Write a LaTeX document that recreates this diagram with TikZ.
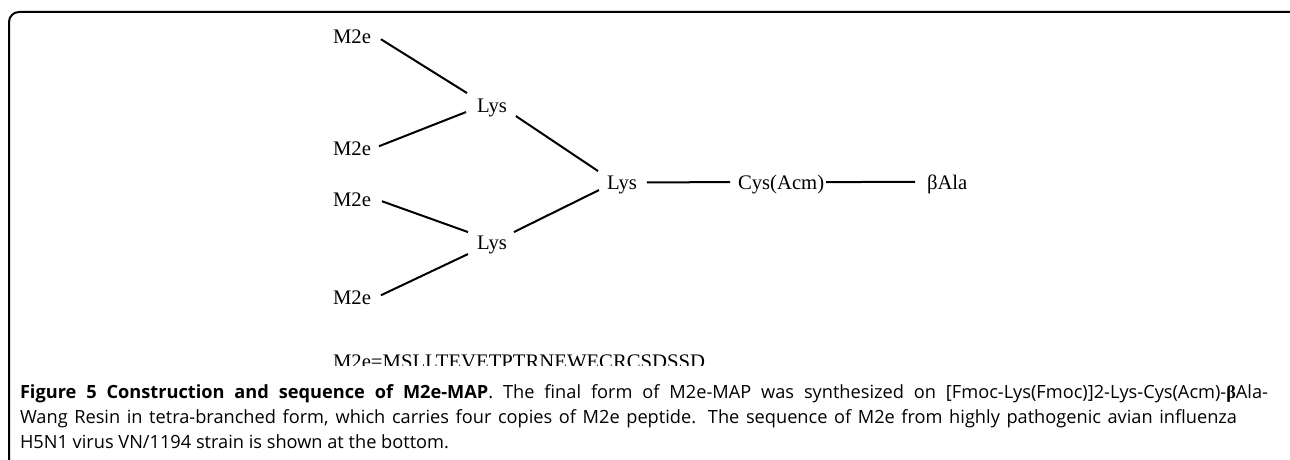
\documentclass[tikz,border=0pt]{standalone}
\usepackage{fontspec}
\setmainfont{Liberation Serif}
\newfontfamily\capfont{Open Sans}
\newfontfamily\grk{Liberation Serif}
\usetikzlibrary{calc}
\begin{document}
\begin{tikzpicture}[x=1pt,y=-1pt,
  lbl/.style={inner sep=0pt, outer sep=0pt, anchor=base west, font=\fontsize{20.7pt}{24pt}\selectfont},
  captext/.style={inner sep=0pt, outer sep=0pt, anchor=base west, font=\capfont\fontsize{18.2pt}{24pt}\selectfont},
  link/.style={line width=2pt},
  frameline/.style={line width=2pt, rounded corners=10pt}]
\useasboundingbox (0,0) rectangle (1290,460);
\begin{scope}
\clip (0,0) rectangle (1290,460);
\draw[frameline] (9,475) -- (9,12) -- (1300,12) -- (1300,475);
\end{scope}
% nodes
\node[lbl] (m1) at (333,44) {M2e};
\node[lbl] (m2) at (333,155) {M2e};
\node[lbl] (m3) at (333,206) {M2e};
\node[lbl] (m4) at (333,304) {M2e};
\node[lbl] (la) at (477,112) {Lys};
\node[lbl] (lb) at (477,249) {Lys};
\node[lbl] (l) at (607,189) {Lys};
\node[lbl] (cys) at (738,189) {Cys(Acm)};
\node[lbl] (ba) at (927,189) {βAla};
% connectors
\draw[link] ($(m1.east)+(10,2)$) -- ($(la.west)+(-10,-14.4)$);
\draw[link] ($(m2.east)+(8,-2)$) -- ($(la.west)+(-11,4.6)$);
\draw[link] ($(la.east)+(9,8.6)$) -- ($(l.west)+(-9,-13.4)$);
\draw[link] ($(m3.east)+(11,2)$) -- ($(lb.west)+(-9,-12.4)$);
\draw[link] ($(m4.east)+(10,-2)$) -- ($(lb.west)+(-9,9.6)$);
\draw[link] ($(lb.east)+(7,-12.4)$) -- ($(l.west)+(-8,5.6)$);
\draw[link] ($(l.east)+(10,-2)$) -- ($(cys.west)+(-8,-2)$);
\draw[link] ($(cys.east)+(2,-2)$) -- ($(ba.west)+(-12,-2)$);
% sequence
\begin{scope}
\clip (0,0) rectangle (1290,365.5);
\node[lbl] (seq) at (333,368) {M2e=MSLLTEVETPTRNEWECRCSDSSD};
\end{scope}
% caption
\node[captext] (c1) at (20,398) {\makebox[1248pt][s]{\bfseries Figure 5 Construction and sequence of M2e-MAP\mdseries. The final form of M2e-MAP was synthesized on [Fmoc-Lys(Fmoc)]2-Lys-Cys(Acm)-{\grk\bfseries β}Ala-}};
\node[captext] (c2) at (20,423) {\makebox[1217pt][s]{Wang Resin in tetra-branched form, which carries four copies of M2e peptide. The sequence of M2e from highly pathogenic avian influenza}};
\node[captext] (c3) at (20,448) {H5N1 virus VN/1194 strain is shown at the bottom.};
\end{tikzpicture}
\end{document}
